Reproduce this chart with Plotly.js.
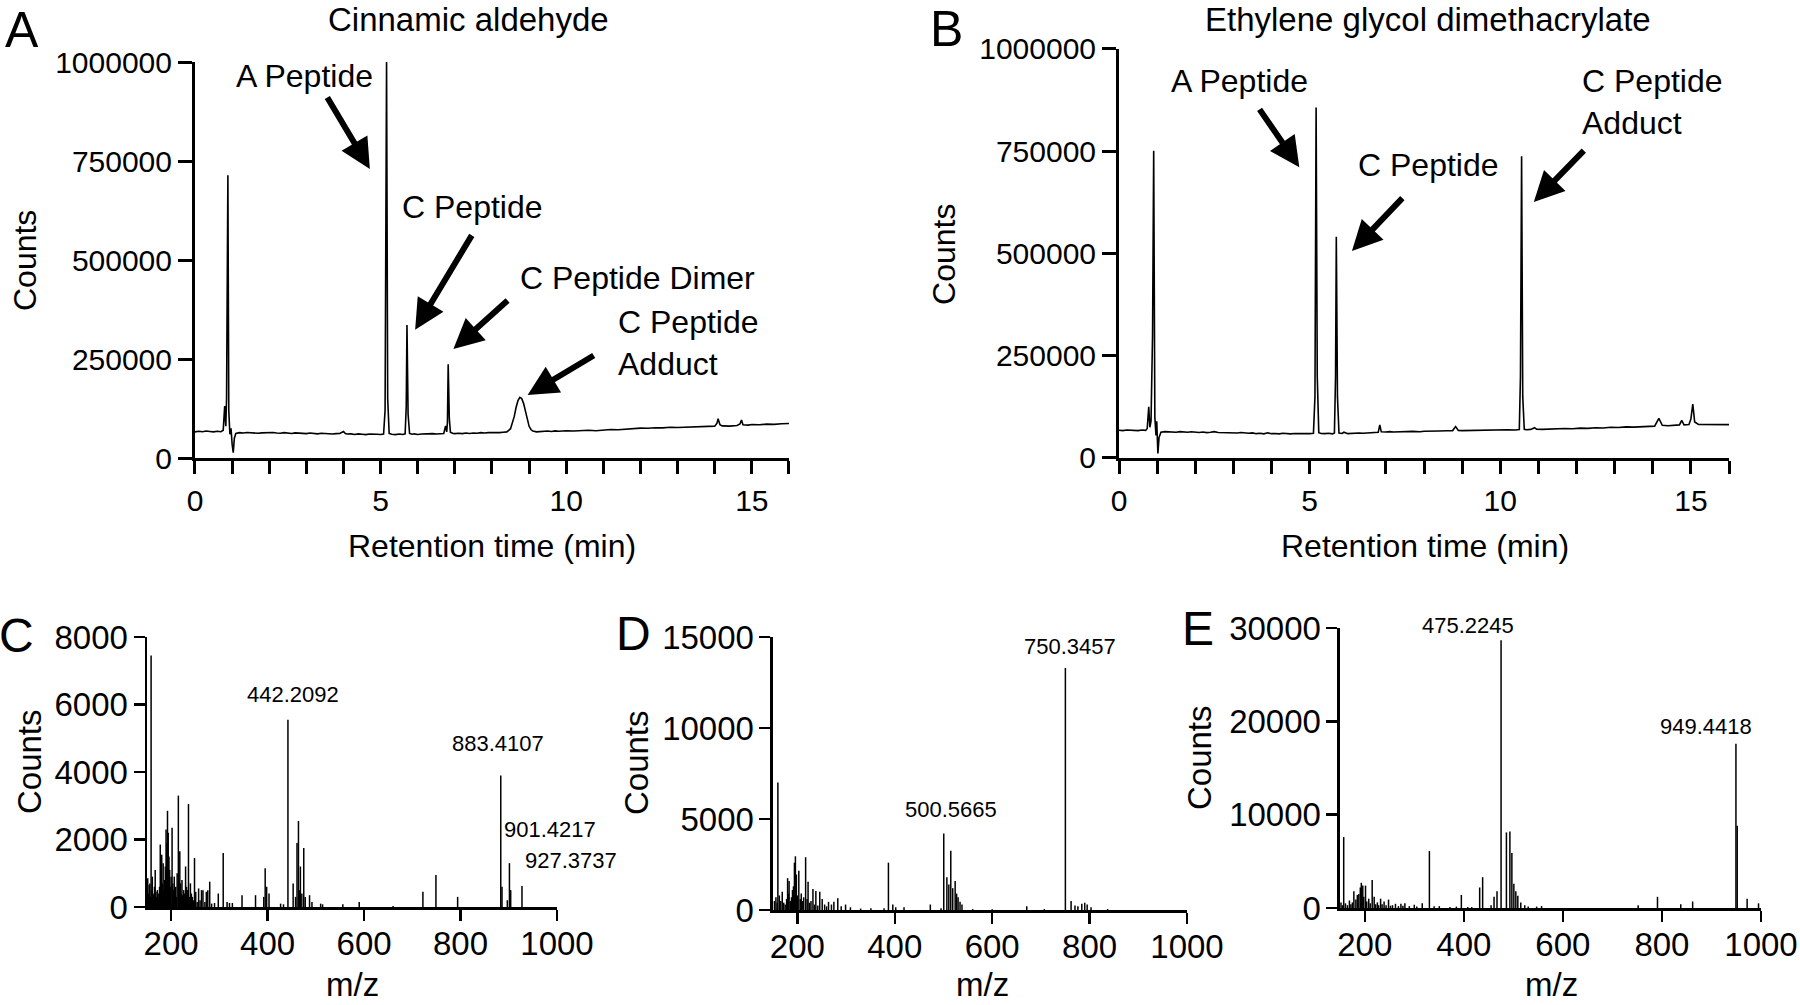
<!DOCTYPE html>
<html><head><meta charset="utf-8">
<script src="https://cdn.plot.ly/plotly-3.0.1.min.js"></script>
<style>html,body{margin:0;padding:0;background:#fff;}#chart{width:1800px;height:1005px;}</style>
</head><body><div id="chart"></div>
<script>
// ---------- Chromatogram A: Cinnamic aldehyde ----------
const timeA = [
 0,0.1,0.2,0.3,0.4,0.5,0.6,0.7,0.76,0.8,
 0.83,0.85,0.886,0.91,0.94,0.97,1.0,1.03,1.06,1.1,
 1.2,1.3,1.4,1.5,1.6,1.7,1.8,1.9,2.0,2.1,
 2.2,2.3,2.4,2.5,2.6,2.7,2.8,2.9,3.0,3.1,
 3.2,3.3,3.4,3.5,3.6,3.7,3.8,3.9,4.0,4.05,
 4.1,4.2,4.3,4.4,4.5,4.6,4.7,4.8,4.9,5.0,
 5.08,5.12,5.16,5.19,5.23,5.3,5.4,5.5,5.6,5.66,
 5.69,5.71,5.74,5.78,5.85,5.9,6.0,6.1,6.2,6.3,
 6.4,6.5,6.6,6.7,6.75,6.78,6.8,6.82,6.85,6.88,
 6.95,7.0,7.1,7.2,7.3,7.4,7.5,7.6,7.7,7.8,
 7.9,8.0,8.1,8.2,8.3,8.4,8.5,8.6,8.65,8.7,8.75,
 8.8,8.85,8.9,8.95,9.0,9.05,9.1,9.2,9.3,9.4,9.5,9.6,9.7,
 9.8,9.9,10.0,10.2,10.4,10.6,10.8,11.0,11.2,11.4,
 11.6,11.8,12.0,12.2,12.4,12.6,12.8,13.0,13.2,13.4,
 13.6,13.8,14.0,14.06,14.09,14.14,14.2,14.4,14.6,14.68,
 14.72,14.76,14.9,15.0,15.2,15.4,15.6,15.8,16.0];
const countsA = [
 66000,67500,66500,68000,67000,66000,67500,66500,70000,131000,
 80000,150000,714000,120000,60000,75000,35000,13500,50000,62000,
 64000,63000,64500,63500,64000,62500,63500,64000,63000,64500,
 63000,62500,64000,63000,62000,63500,62500,63000,61500,63000,
 62000,61000,62500,61500,62000,60500,61500,62000,67000,62000,
 60500,61000,59500,61000,60000,59000,60500,59500,60000,59500,
 60500,120000,1000000,150000,62000,60000,59000,60500,59500,61000,
 130000,336000,110000,62000,60000,61000,59500,60500,61000,60000,
 61500,60500,61000,62000,81000,66000,90000,237000,100000,65000,
 62000,61500,62500,61500,63000,62000,63000,62500,64000,63000,
 64000,63500,64500,64000,65000,66000,74000,105000,128000,145000,153000,
 150000,138000,120000,98000,80000,72000,68000,66000,67000,66500,68000,67000,68500,
 67500,68000,69000,68000,69500,70000,69000,71000,72000,71500,
 73000,74000,75500,75000,76500,76000,77500,77000,78000,78500,
 79000,79500,80500,88000,99000,84000,81000,80500,82000,86000,
 96000,84000,83000,84500,84000,85500,85000,86500,87000];

// ---------- Chromatogram B: Ethylene glycol dimethacrylate ----------
const timeB = [
 0,0.1,0.2,0.3,0.4,0.5,0.6,0.7,0.74,0.78,
 0.81,0.84,0.88,0.91,0.94,0.97,0.99,1.02,1.05,1.1,
 1.2,1.3,1.4,1.5,1.6,1.7,1.8,1.9,2.0,2.1,
 2.2,2.3,2.4,2.5,2.6,2.7,2.8,2.9,3.0,3.1,
 3.2,3.3,3.4,3.5,3.6,3.7,3.8,3.9,4.0,4.1,
 4.2,4.3,4.4,4.5,4.6,4.7,4.8,4.9,5.0,5.1,
 5.14,5.17,5.2,5.24,5.3,5.4,5.5,5.6,5.65,5.68,
 5.70,5.73,5.77,5.85,5.9,6.0,6.1,6.2,6.3,6.4,
 6.5,6.6,6.7,6.8,6.84,6.88,7.0,7.1,7.2,7.3,
 7.4,7.5,7.6,7.7,7.8,7.9,8.0,8.2,8.4,8.6,
 8.75,8.83,8.9,9.0,9.2,9.4,9.6,9.8,10.0,10.2,
 10.4,10.5,10.53,10.56,10.59,10.63,10.7,10.8,10.9,10.95,
 11.1,11.3,11.5,11.7,11.9,12.1,12.3,12.5,12.7,12.9,
 13.1,13.3,13.5,13.7,13.9,14.05,14.16,14.25,14.4,14.6,
 14.7,14.76,14.82,14.95,15.0,15.05,15.1,15.2,15.4,15.6,
 15.8,16.0];
const countsB = [
 68000,67000,68500,67500,68000,67000,68500,67500,72000,125000,
 75000,90000,300000,751000,100000,55000,90000,11000,50000,63000,
 64500,63500,64000,63000,64500,63500,63000,64000,63000,62500,
 63500,62000,63000,64500,62500,62000,63000,61500,62000,61000,
 62500,61000,60500,61500,59500,60500,59000,61500,59500,60000,
 59000,60500,59500,59000,60000,59500,59000,60000,59500,60500,
 150000,857000,200000,62000,60000,59500,60500,59000,61000,200000,
 541000,150000,61000,60000,63000,59500,60500,60000,61000,60500,
 61500,61000,62000,63000,81000,64000,63500,64500,63500,64000,
 63000,64500,64000,65000,64500,64000,65500,65000,66000,66500,
 67000,77000,67500,67000,67500,68000,67500,68500,68000,69000,
 68500,69500,200000,738000,150000,70000,69000,70000,74000,70500,
 70000,71000,70500,72000,71500,73000,72500,74000,73500,75000,
 74500,76000,75500,76500,77000,78000,97000,80000,79000,80000,
 81000,92000,81000,82000,95000,132000,88000,82000,81500,82000,
 81000,81500];

// ---------- Mass spectrum C ----------
const mzC = [
 150.5,151.5,153,154.5,156,157,158.5,160,161,162.5,
 164,165.5,167,168.5,170,171.5,173,174.5,176,177.5,
 179,180.5,182,183.5,185,186.5,188,189.5,191,192.5,
 194,195.5,197,198.5,200,202,203.5,205,206.5,208,
 209.5,211,212.5,215,216.5,218,219.5,221,222.5,224,
 226,228,230,232,234,236,238,240,242,244,
 246,248.5,251,254,257,260,263,266,270,273,
 276,280,284,290,297.8,308,316,321,327,347,
 375,392,395,398,403,427,433,442.2,453,458,
 461,464,466,468,471,475,478,487,492,510,
 514,556,590,660,722,749,794,883.4,886,897,
 901.4,904,927.4];
const intC = [
 600,850,400,650,700,300,7450,500,900,400,
 350,600,1100,450,300,500,250,400,600,1850,
 900,1550,700,1300,500,800,1200,2300,1900,2850,
 2200,1500,1100,600,900,2350,700,500,900,400,
 600,300,1000,3300,500,1650,700,400,800,350,
 500,400,1200,600,500,3050,300,700,400,300,
 200,1450,450,150,550,200,500,500,150,450,
 500,750,100,120,400,1600,150,120,120,350,
 350,300,1150,600,400,100,80,5550,700,300,
 1900,2550,500,1200,400,1750,300,350,150,100,
 80,80,150,30,450,950,300,3900,600,200,
 1300,500,620];

// ---------- Mass spectrum D ----------
const mzD = [
 153,156,158.5,160,163,166,169,172,175,178,
 180,182,183,186,188,190,192,194,196,198,
 200,203,206,208,210,213,217,220,222,225,
 228,232,235,238,242,246,251,256,260,264,
 270,275,283,290,299,309,330,351,378,387,
 396,402,419,473,495,500.6,507,511,515,519,
 524,527,530,534,538,560,600,671,707,750.3,
 762,770,776,784,790,795,803,837];
const intD = [
 500,700,400,7000,800,500,1000,400,300,600,
 1750,900,1600,500,700,1100,1300,2600,2950,1950,
 800,2150,600,900,500,700,2900,600,1550,400,
 500,1150,300,1050,250,1000,600,300,200,450,
 300,450,650,200,300,150,80,100,100,2600,
 300,150,150,300,100,4200,1800,1400,3250,1200,
 1600,900,700,450,300,50,40,200,50,13300,
 500,250,200,350,400,300,150,50];

// ---------- Mass spectrum E ----------
const mzE = [
 152,155,157.5,161,165,169,172,175,178,182,
 185,188,191,193,196,198,201.5,204,208,211,
 215,219,222,225.5,228,232,235,239,243,248,
 252,256,262,268,273,277,281,290,300,305,
 316,330.5,340,350.5,372,385,395,408,416,432,
 438,455,461,467,475.2,486,493,497,501,505,
 509,515,523,530,547,557,752,791,838,862,
 949.4,952,972,995];
const intE = [
 600,300,7600,500,300,800,400,600,1800,900,
 1400,1500,2200,2700,2400,1200,2400,700,1000,500,
 3000,1200,400,600,300,1000,400,700,300,900,
 250,300,450,200,450,250,500,200,350,150,
 500,6100,200,200,100,150,1400,100,100,2200,
 3300,300,1200,1800,28700,8100,8200,5900,2600,1800,
 1300,600,300,150,150,200,300,1200,400,700,
 17600,8800,1000,500];

// ---------- Text ----------
const panelLetters = ['A','B','C','D','E'];
const panelTitles = ['Cinnamic aldehyde','Ethylene glycol dimethacrylate'];
const peakLabelsA = ['A Peptide','C Peptide','C Peptide Dimer','C Peptide<br>Adduct'];
const peakLabelsB = ['A Peptide','C Peptide','C Peptide<br>Adduct'];
const mzLabelsC = ['442.2092','883.4107','901.4217','927.3737'];
const mzLabelsD = ['500.5665','750.3457'];
const mzLabelsE = ['475.2245','949.4418'];
const chromTicks = [0,1,2,3,4,5,6,7,8,9,10,11,12,13,14,15,16];

const FONT = 'Liberation Sans, Arial, Helvetica, sans-serif';

function sticks(mz, inten){
  const x=[], y=[];
  for(let i=0;i<mz.length;i++){ x.push(mz[i],mz[i],null); y.push(0,inten[i],null); }
  return {x:x,y:y};
}

const sC = sticks(mzC,intC), sD = sticks(mzD,intD), sE = sticks(mzE,intE);
const line = {color:'#000', width:1.6};
const stick = {color:'#000', width:1.5};

const traces = [
  {x:timeA, y:countsA, xaxis:'x', yaxis:'y', mode:'lines', line:line, hoverinfo:'skip'},
  {x:timeB, y:countsB, xaxis:'x2', yaxis:'y2', mode:'lines', line:line, hoverinfo:'skip'},
  {x:sC.x, y:sC.y, xaxis:'x3', yaxis:'y3', mode:'lines', line:stick, connectgaps:false, hoverinfo:'skip'},
  {x:sD.x, y:sD.y, xaxis:'x4', yaxis:'y4', mode:'lines', line:stick, connectgaps:false, hoverinfo:'skip'},
  {x:sE.x, y:sE.y, xaxis:'x5', yaxis:'y5', mode:'lines', line:stick, connectgaps:false, hoverinfo:'skip'}
];

function topX(dom, anchor){
  return {domain:dom, anchor:anchor, range:[0,16], showline:true, linecolor:'#000', linewidth:3,
    ticks:'outside', ticklen:13, tickwidth:3, tickcolor:'#000', showgrid:false, zeroline:false,
    tickvals:chromTicks, ticktext:chromTicks.map(v => v%5===0 ? String(v) : ''),
    tickfont:{family:FONT, size:30, color:'#000'}, ticklabelstandoff:1, fixedrange:true};
}
function topY(dom, anchor){
  return {domain:dom, anchor:anchor, range:[0,1000000], showline:true, linecolor:'#000', linewidth:3,
    ticks:'outside', ticklen:14, tickwidth:3, tickcolor:'#000', showgrid:false, zeroline:false,
    tickvals:[0,250000,500000,750000,1000000], ticktext:['0','250000','500000','750000','1000000'],
    tickfont:{family:FONT, size:30, color:'#000'}, ticklabelstandoff:0, fixedrange:true};
}
function botX(dom, anchor){
  return {domain:dom, anchor:anchor, range:[150,1000], showline:true, linecolor:'#000', linewidth:2.5,
    ticks:'outside', ticklen:11, tickwidth:2.5, tickcolor:'#000', showgrid:false, zeroline:false,
    tickvals:[200,400,600,800,1000], tickfont:{family:FONT, size:33, color:'#000'}, ticklabelstandoff:-5, fixedrange:true};
}
function botY(dom, anchor, max, step){
  const tv=[]; for(let v=0; v<=max; v+=step) tv.push(v);
  return {domain:dom, anchor:anchor, range:[0,max], showline:true, linecolor:'#000', linewidth:2.5,
    ticks:'outside', ticklen:11, tickwidth:2.5, tickcolor:'#000', showgrid:false, zeroline:false,
    tickvals:tv, ticktext:tv.map(String), tickfont:{family:FONT, size:33, color:'#000'}, ticklabelstandoff:-1, fixedrange:true};
}

const ann = [];
function paperText(text, x, y, size, opts){
  ann.push(Object.assign({text:text, x:x, y:y, xref:'paper', yref:'paper', showarrow:false,
    xanchor:'center', yanchor:'middle', font:{family:FONT, size:size, color:'#000'}}, opts||{}));
}
function dataText(text, xr, yr, x, y, size, opts){
  ann.push(Object.assign({text:text, x:x, y:y, xref:xr, yref:yr, showarrow:false,
    xanchor:'center', yanchor:'middle', font:{family:FONT, size:size, color:'#000'}}, opts||{}));
}
function arrow(xr, yr, tx, ty, hx, hy){
  ann.push({text:'', x:hx, y:hy, xref:xr, yref:yr, ax:tx, ay:ty, axref:xr, ayref:yr,
    showarrow:true, arrowhead:2, arrowsize:1, arrowwidth:6, arrowcolor:'#000', standoff:0, startstandoff:0});
}

// panel letters
paperText(panelLetters[0], 0.0122, 0.970, 50);
paperText(panelLetters[1], 0.5261, 0.971, 50);
paperText(panelLetters[2], 0.0089, 0.368, 48);
paperText(panelLetters[3], 0.3522, 0.370, 48);
paperText(panelLetters[4], 0.6656, 0.375, 48);
// panel titles
paperText(panelTitles[0], 0.260, 0.981, 33);
paperText(panelTitles[1], 0.7933, 0.981, 33);
// axis titles
paperText('Counts', 0.0139, 0.7403, 32, {textangle:-90});
paperText('Counts', 0.5244, 0.7473, 32, {textangle:-90});
paperText('Counts', 0.0167, 0.2418, 33, {textangle:-90});
paperText('Counts', 0.3539, 0.2408, 33, {textangle:-90});
paperText('Counts', 0.6667, 0.2458, 33, {textangle:-90});
paperText('Retention time (min)', 0.2733, 0.4567, 32);
paperText('Retention time (min)', 0.7917, 0.4567, 32);
paperText('m/z', 0.1956, 0.0200, 33);
paperText('m/z', 0.5456, 0.0200, 33);
paperText('m/z', 0.8622, 0.0200, 33);

// panel A labels and arrows
dataText(peakLabelsA[0], 'x','y', 2.95, 964000, 32);
dataText(peakLabelsA[1], 'x','y', 7.48, 633000, 32);
dataText(peakLabelsA[2], 'x','y', 11.92, 455000, 32);
dataText(peakLabelsA[3], 'x','y', 11.35, 290000, 32, {xanchor:'left', align:'left'});
arrow('x','y', 3.54, 914000, 4.71, 730000);
arrow('x','y', 7.48, 566000, 5.93, 324000);
arrow('x','y', 8.46, 401000, 6.96, 275000);
arrow('x','y', 10.78, 261000, 8.96, 159000);

// panel B labels and arrows
dataText(peakLabelsB[0], 'x2','y2', 3.16, 921000, 32);
dataText(peakLabelsB[1], 'x2','y2', 8.11, 716000, 32);
dataText(peakLabelsB[2], 'x2','y2', 12.08, 871000, 32, {xanchor:'left', align:'left'});
arrow('x2','y2', 3.66, 856000, 4.73, 711000);
arrow('x2','y2', 7.47, 639000, 6.11, 506000);
arrow('x2','y2', 12.23, 755000, 10.88, 626000);

// mass labels
dataText(mzLabelsC[0], 'x3','y3', 453, 6311, 22);
dataText(mzLabelsC[1], 'x3','y3', 878, 4830, 22);
dataText(mzLabelsC[2], 'x3','y3', 985, 2311, 22);
paperText(mzLabelsC[3], 0.3172, 0.1433, 22);
dataText(mzLabelsD[0], 'x4','y4', 515, 5549, 22);
dataText(mzLabelsD[1], 'x4','y4', 760, 14505, 22);
paperText(mzLabelsE[0], 0.8156, 0.3781, 22);
dataText(mzLabelsE[1], 'x5','y5', 889, 19500, 22);

const layout = {
  width:1800, height:1005, margin:{l:0,r:0,t:0,b:0}, showlegend:false,
  paper_bgcolor:'#fff', plot_bgcolor:'rgba(0,0,0,0)',
  font:{family:FONT, color:'#000'},
  xaxis: topX([0.108333,0.438333],'y'),
  yaxis: topY([0.544279,0.938308],'x'),
  xaxis2: topX([0.621667,0.960556],'y2'),
  yaxis2: topY([0.544279,0.951244],'x2'),
  xaxis3: botX([0.081667,0.309444],'y3'),
  yaxis3: botY([0.097512,0.366169],'x3',8000,2000),
  xaxis4: botX([0.429444,0.659444],'y4'),
  yaxis4: botY([0.094527,0.366169],'x4',15000,5000),
  xaxis5: botX([0.744444,0.978333],'y5'),
  yaxis5: botY([0.096517,0.375124],'x5',30000,10000),
  annotations: ann
};

Plotly.newPlot('chart', traces, layout, {staticPlot:true, displayModeBar:false});
</script>
</body></html>
